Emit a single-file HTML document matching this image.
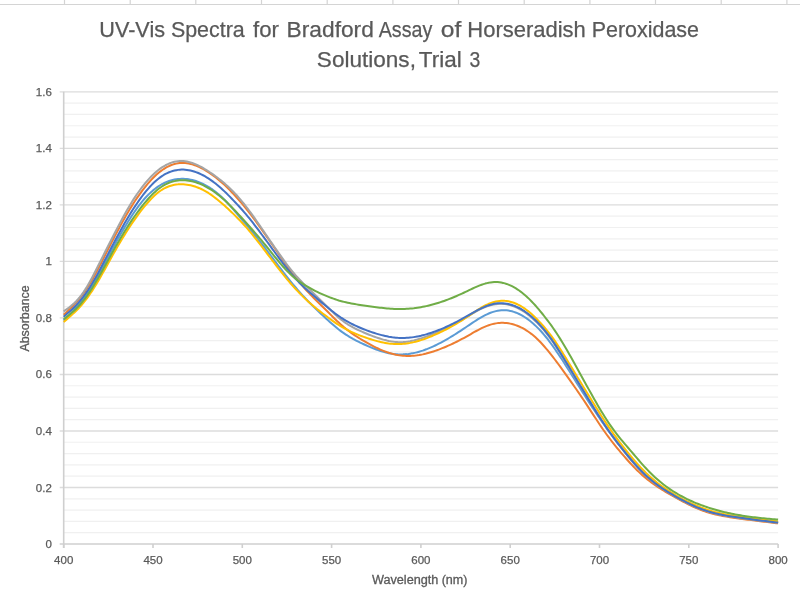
<!DOCTYPE html><html><head><meta charset="utf-8"><style>html,body{margin:0;padding:0;background:#fff;}svg{display:block;filter:blur(0.3px);} svg text{-webkit-font-smoothing:antialiased;}text{font-family:"Liberation Sans",sans-serif;}</style></head><body>
<svg width="800" height="596" viewBox="0 0 800 596">
<rect width="800" height="596" fill="#fff"/>
<g stroke="#d4d4d4" stroke-width="1.2">
<line x1="0" y1="4.5" x2="800" y2="4.5"/>
<line x1="64.5" y1="0" x2="64.5" y2="4.5"/>
<line x1="130.2" y1="0" x2="130.2" y2="4.5"/>
<line x1="195.8" y1="0" x2="195.8" y2="4.5"/>
<line x1="261.5" y1="0" x2="261.5" y2="4.5"/>
<line x1="327.2" y1="0" x2="327.2" y2="4.5"/>
<line x1="392.9" y1="0" x2="392.9" y2="4.5"/>
<line x1="458.5" y1="0" x2="458.5" y2="4.5"/>
<line x1="524.2" y1="0" x2="524.2" y2="4.5"/>
<line x1="589.9" y1="0" x2="589.9" y2="4.5"/>
<line x1="655.5" y1="0" x2="655.5" y2="4.5"/>
<line x1="721.2" y1="0" x2="721.2" y2="4.5"/>
<line x1="786.9" y1="0" x2="786.9" y2="4.5"/>
</g>
<g stroke="#f0f0f0" stroke-width="1.2">
<line x1="63.7" y1="532.70" x2="778.1" y2="532.70"/>
<line x1="63.7" y1="521.39" x2="778.1" y2="521.39"/>
<line x1="63.7" y1="510.09" x2="778.1" y2="510.09"/>
<line x1="63.7" y1="498.78" x2="778.1" y2="498.78"/>
<line x1="63.7" y1="476.18" x2="778.1" y2="476.18"/>
<line x1="63.7" y1="464.87" x2="778.1" y2="464.87"/>
<line x1="63.7" y1="453.57" x2="778.1" y2="453.57"/>
<line x1="63.7" y1="442.26" x2="778.1" y2="442.26"/>
<line x1="63.7" y1="419.66" x2="778.1" y2="419.66"/>
<line x1="63.7" y1="408.35" x2="778.1" y2="408.35"/>
<line x1="63.7" y1="397.05" x2="778.1" y2="397.05"/>
<line x1="63.7" y1="385.74" x2="778.1" y2="385.74"/>
<line x1="63.7" y1="363.14" x2="778.1" y2="363.14"/>
<line x1="63.7" y1="351.83" x2="778.1" y2="351.83"/>
<line x1="63.7" y1="340.53" x2="778.1" y2="340.53"/>
<line x1="63.7" y1="329.22" x2="778.1" y2="329.22"/>
<line x1="63.7" y1="306.62" x2="778.1" y2="306.62"/>
<line x1="63.7" y1="295.31" x2="778.1" y2="295.31"/>
<line x1="63.7" y1="284.01" x2="778.1" y2="284.01"/>
<line x1="63.7" y1="272.70" x2="778.1" y2="272.70"/>
<line x1="63.7" y1="250.10" x2="778.1" y2="250.10"/>
<line x1="63.7" y1="238.79" x2="778.1" y2="238.79"/>
<line x1="63.7" y1="227.49" x2="778.1" y2="227.49"/>
<line x1="63.7" y1="216.18" x2="778.1" y2="216.18"/>
<line x1="63.7" y1="193.58" x2="778.1" y2="193.58"/>
<line x1="63.7" y1="182.27" x2="778.1" y2="182.27"/>
<line x1="63.7" y1="170.97" x2="778.1" y2="170.97"/>
<line x1="63.7" y1="159.66" x2="778.1" y2="159.66"/>
<line x1="63.7" y1="137.06" x2="778.1" y2="137.06"/>
<line x1="63.7" y1="125.75" x2="778.1" y2="125.75"/>
<line x1="63.7" y1="114.45" x2="778.1" y2="114.45"/>
<line x1="63.7" y1="103.14" x2="778.1" y2="103.14"/>
</g>
<g stroke="#dcdcdc" stroke-width="1.4">
<line x1="59.7" y1="487.48" x2="778.1" y2="487.48"/>
<line x1="59.7" y1="430.96" x2="778.1" y2="430.96"/>
<line x1="59.7" y1="374.44" x2="778.1" y2="374.44"/>
<line x1="59.7" y1="317.92" x2="778.1" y2="317.92"/>
<line x1="59.7" y1="261.40" x2="778.1" y2="261.40"/>
<line x1="59.7" y1="204.88" x2="778.1" y2="204.88"/>
<line x1="59.7" y1="148.36" x2="778.1" y2="148.36"/>
<line x1="59.7" y1="91.84" x2="778.1" y2="91.84"/>
</g>
<g stroke="#cfcfcf" stroke-width="1.6">
<line x1="63.7" y1="91.8" x2="63.7" y2="548.0"/>
<line x1="59.7" y1="544.0" x2="778.1" y2="544.0"/>
<line x1="63.7" y1="544.0" x2="63.7" y2="548.0"/>
<line x1="153.0" y1="544.0" x2="153.0" y2="548.0"/>
<line x1="242.3" y1="544.0" x2="242.3" y2="548.0"/>
<line x1="331.6" y1="544.0" x2="331.6" y2="548.0"/>
<line x1="420.9" y1="544.0" x2="420.9" y2="548.0"/>
<line x1="510.2" y1="544.0" x2="510.2" y2="548.0"/>
<line x1="599.5" y1="544.0" x2="599.5" y2="548.0"/>
<line x1="688.8" y1="544.0" x2="688.8" y2="548.0"/>
<line x1="778.1" y1="544.0" x2="778.1" y2="548.0"/>
</g>
<path d="M63.70,320.52L65.49,318.75L67.27,316.96L69.06,315.16L70.84,313.33L72.63,311.46L74.42,309.53L76.20,307.54L77.99,305.47L79.77,303.32L81.56,301.08L83.35,298.75L85.13,296.33L86.92,293.80L88.70,291.16L90.49,288.42L92.28,285.58L94.06,282.63L95.85,279.57L97.63,276.44L99.42,273.23L101.21,269.96L102.99,266.66L104.78,263.32L106.56,259.96L108.35,256.59L110.14,253.23L111.92,249.89L113.71,246.58L115.49,243.31L117.28,240.08L119.07,236.89L120.85,233.74L122.64,230.66L124.42,227.62L126.21,224.65L128.00,221.75L129.78,218.92L131.57,216.15L133.35,213.47L135.14,210.87L136.93,208.36L138.71,205.94L140.50,203.61L142.28,201.39L144.07,199.27L145.86,197.27L147.64,195.38L149.43,193.61L151.21,191.95L153.00,190.40L154.79,188.96L156.57,187.62L158.36,186.38L160.14,185.25L161.93,184.21L163.72,183.27L165.50,182.42L167.29,181.67L169.07,181.01L170.86,180.44L172.65,179.96L174.43,179.56L176.22,179.25L178.00,179.03L179.79,178.88L181.58,178.81L183.36,178.82L185.15,178.91L186.93,179.07L188.72,179.31L190.51,179.62L192.29,180.01L194.08,180.47L195.86,181.01L197.65,181.62L199.44,182.31L201.22,183.07L203.01,183.91L204.79,184.81L206.58,185.79L208.37,186.85L210.15,187.97L211.94,189.17L213.72,190.44L215.51,191.79L217.30,193.21L219.08,194.70L220.87,196.28L222.65,197.93L224.44,199.66L226.23,201.48L228.01,203.37L229.80,205.33L231.58,207.35L233.37,209.41L235.16,211.51L236.94,213.62L238.73,215.75L240.51,217.87L242.30,219.98L244.09,222.10L245.87,224.21L247.66,226.34L249.44,228.48L251.23,230.64L253.02,232.83L254.80,235.03L256.59,237.26L258.37,239.50L260.16,241.77L261.95,244.05L263.73,246.36L265.52,248.68L267.30,251.02L269.09,253.38L270.88,255.75L272.66,258.13L274.45,260.51L276.23,262.89L278.02,265.26L279.81,267.63L281.59,269.97L283.38,272.29L285.16,274.59L286.95,276.86L288.74,279.11L290.52,281.32L292.31,283.51L294.09,285.66L295.88,287.77L297.67,289.85L299.45,291.90L301.24,293.90L303.02,295.85L304.81,297.77L306.60,299.65L308.38,301.50L310.17,303.32L311.95,305.11L313.74,306.87L315.53,308.61L317.31,310.32L319.10,312.02L320.88,313.70L322.67,315.37L324.46,317.02L326.24,318.67L328.03,320.30L329.81,321.91L331.60,323.50L333.39,325.06L335.17,326.58L336.96,328.05L338.74,329.47L340.53,330.83L342.32,332.14L344.10,333.38L345.89,334.57L347.67,335.71L349.46,336.80L351.25,337.85L353.03,338.86L354.82,339.82L356.60,340.76L358.39,341.66L360.18,342.54L361.96,343.39L363.75,344.22L365.53,345.03L367.32,345.83L369.11,346.61L370.89,347.37L372.68,348.10L374.46,348.80L376.25,349.48L378.04,350.12L379.82,350.73L381.61,351.30L383.39,351.83L385.18,352.32L386.97,352.76L388.75,353.15L390.54,353.49L392.32,353.78L394.11,354.01L395.90,354.19L397.68,354.31L399.47,354.38L401.25,354.39L403.04,354.36L404.83,354.26L406.61,354.12L408.40,353.92L410.18,353.66L411.97,353.36L413.76,353.01L415.54,352.62L417.33,352.17L419.11,351.68L420.90,351.15L422.69,350.58L424.47,349.96L426.26,349.31L428.04,348.61L429.83,347.88L431.62,347.11L433.40,346.31L435.19,345.48L436.97,344.61L438.76,343.72L440.55,342.79L442.33,341.83L444.12,340.85L445.90,339.85L447.69,338.82L449.48,337.76L451.26,336.69L453.05,335.59L454.83,334.48L456.62,333.35L458.41,332.20L460.19,331.04L461.98,329.86L463.76,328.67L465.55,327.47L467.34,326.27L469.12,325.06L470.91,323.85L472.69,322.66L474.48,321.49L476.27,320.34L478.05,319.22L479.84,318.14L481.62,317.10L483.41,316.11L485.20,315.18L486.98,314.32L488.77,313.52L490.55,312.80L492.34,312.16L494.13,311.61L495.91,311.14L497.70,310.77L499.48,310.49L501.27,310.30L503.06,310.22L504.84,310.23L506.63,310.36L508.41,310.58L510.20,310.90L511.99,311.32L513.77,311.84L515.56,312.46L517.34,313.18L519.13,313.99L520.92,314.89L522.70,315.89L524.49,316.98L526.27,318.16L528.06,319.43L529.85,320.79L531.63,322.23L533.42,323.77L535.20,325.39L536.99,327.10L538.78,328.89L540.56,330.78L542.35,332.76L544.13,334.83L545.92,336.99L547.71,339.24L549.49,341.58L551.28,343.98L553.06,346.45L554.85,348.98L556.64,351.56L558.42,354.19L560.21,356.86L561.99,359.57L563.78,362.32L565.57,365.09L567.35,367.90L569.14,370.72L570.92,373.56L572.71,376.41L574.50,379.26L576.28,382.12L578.07,384.98L579.85,387.84L581.64,390.68L583.43,393.51L585.21,396.32L587.00,399.11L588.78,401.88L590.57,404.63L592.36,407.36L594.14,410.06L595.93,412.73L597.71,415.38L599.50,418.00L601.29,420.59L603.07,423.15L604.86,425.68L606.64,428.18L608.43,430.64L610.22,433.07L612.00,435.47L613.79,437.84L615.57,440.19L617.36,442.51L619.15,444.81L620.93,447.09L622.72,449.36L624.50,451.61L626.29,453.84L628.08,456.06L629.86,458.25L631.65,460.40L633.43,462.52L635.22,464.60L637.01,466.63L638.79,468.61L640.58,470.54L642.36,472.40L644.15,474.20L645.94,475.93L647.72,477.58L649.51,479.17L651.29,480.70L653.08,482.16L654.87,483.57L656.65,484.93L658.44,486.23L660.22,487.49L662.01,488.71L663.80,489.89L665.58,491.04L667.37,492.15L669.15,493.24L670.94,494.30L672.73,495.34L674.51,496.36L676.30,497.37L678.08,498.37L679.87,499.36L681.66,500.33L683.44,501.29L685.23,502.23L687.01,503.15L688.80,504.05L690.59,504.92L692.37,505.77L694.16,506.59L695.94,507.37L697.73,508.13L699.52,508.85L701.30,509.53L703.09,510.18L704.87,510.80L706.66,511.38L708.45,511.92L710.23,512.44L712.02,512.93L713.80,513.39L715.59,513.83L717.38,514.24L719.16,514.64L720.95,515.01L722.73,515.36L724.52,515.69L726.31,516.01L728.09,516.31L729.88,516.60L731.66,516.88L733.45,517.14L735.24,517.40L737.02,517.65L738.81,517.90L740.59,518.14L742.38,518.38L744.17,518.62L745.95,518.86L747.74,519.09L749.52,519.32L751.31,519.55L753.10,519.77L754.88,520.00L756.67,520.22L758.45,520.44L760.24,520.66L762.03,520.88L763.81,521.10L765.60,521.32L767.38,521.53L769.17,521.75L770.96,521.96L772.74,522.17L774.53,522.39L776.31,522.60L778.10,522.81" fill="none" stroke="#5B9BD5" stroke-width="2.0" stroke-linejoin="round" stroke-linecap="butt"/>
<path d="M63.70,314.85L65.49,313.20L67.27,311.54L69.06,309.85L70.84,308.11L72.63,306.31L74.42,304.43L76.20,302.46L77.99,300.39L79.77,298.23L81.56,295.95L83.35,293.56L85.13,291.05L86.92,288.41L88.70,285.63L90.49,282.72L92.28,279.67L94.06,276.49L95.85,273.21L97.63,269.84L99.42,266.41L101.21,262.93L102.99,259.41L104.78,255.87L106.56,252.33L108.35,248.79L110.14,245.28L111.92,241.79L113.71,238.33L115.49,234.90L117.28,231.51L119.07,228.17L120.85,224.87L122.64,221.63L124.42,218.44L126.21,215.32L128.00,212.26L129.78,209.28L131.57,206.38L133.35,203.56L135.14,200.82L136.93,198.17L138.71,195.59L140.50,193.09L142.28,190.67L144.07,188.34L145.86,186.09L147.64,183.93L149.43,181.86L151.21,179.89L153.00,178.02L154.79,176.25L156.57,174.58L158.36,173.03L160.14,171.58L161.93,170.25L163.72,169.03L165.50,167.92L167.29,166.93L169.07,166.04L170.86,165.27L172.65,164.61L174.43,164.06L176.22,163.62L178.00,163.29L179.79,163.06L181.58,162.94L183.36,162.93L185.15,163.03L186.93,163.22L188.72,163.52L190.51,163.91L192.29,164.39L194.08,164.95L195.86,165.60L197.65,166.33L199.44,167.14L201.22,168.02L203.01,168.97L204.79,169.98L206.58,171.06L208.37,172.19L210.15,173.38L211.94,174.62L213.72,175.91L215.51,177.26L217.30,178.67L219.08,180.13L220.87,181.64L222.65,183.22L224.44,184.86L226.23,186.56L228.01,188.31L229.80,190.11L231.58,191.96L233.37,193.86L235.16,195.80L236.94,197.78L238.73,199.80L240.51,201.86L242.30,203.97L244.09,206.12L245.87,208.32L247.66,210.57L249.44,212.86L251.23,215.20L253.02,217.57L254.80,219.98L256.59,222.41L258.37,224.87L260.16,227.36L261.95,229.86L263.73,232.38L265.52,234.92L267.30,237.47L269.09,240.04L270.88,242.61L272.66,245.20L274.45,247.79L276.23,250.40L278.02,253.01L279.81,255.62L281.59,258.22L283.38,260.80L285.16,263.36L286.95,265.89L288.74,268.39L290.52,270.84L292.31,273.23L294.09,275.57L295.88,277.86L297.67,280.09L299.45,282.27L301.24,284.40L303.02,286.47L304.81,288.50L306.60,290.47L308.38,292.40L310.17,294.28L311.95,296.12L313.74,297.92L315.53,299.70L317.31,301.45L319.10,303.19L320.88,304.93L322.67,306.68L324.46,308.44L326.24,310.22L328.03,312.02L329.81,313.83L331.60,315.63L333.39,317.42L335.17,319.18L336.96,320.91L338.74,322.60L340.53,324.23L342.32,325.80L344.10,327.31L345.89,328.76L347.67,330.16L349.46,331.52L351.25,332.82L353.03,334.08L354.82,335.30L356.60,336.49L358.39,337.64L360.18,338.75L361.96,339.84L363.75,340.90L365.53,341.94L367.32,342.96L369.11,343.96L370.89,344.93L372.68,345.87L374.46,346.78L376.25,347.67L378.04,348.51L379.82,349.32L381.61,350.10L383.39,350.83L385.18,351.52L386.97,352.16L388.75,352.76L390.54,353.31L392.32,353.81L394.11,354.26L395.90,354.66L397.68,355.00L399.47,355.30L401.25,355.54L403.04,355.73L404.83,355.86L406.61,355.94L408.40,355.97L410.18,355.95L411.97,355.87L413.76,355.74L415.54,355.57L417.33,355.34L419.11,355.07L420.90,354.75L422.69,354.39L424.47,353.99L426.26,353.56L428.04,353.08L429.83,352.57L431.62,352.03L433.40,351.46L435.19,350.85L436.97,350.22L438.76,349.57L440.55,348.89L442.33,348.18L444.12,347.46L445.90,346.71L447.69,345.94L449.48,345.15L451.26,344.33L453.05,343.50L454.83,342.64L456.62,341.76L458.41,340.86L460.19,339.94L461.98,338.99L463.76,338.03L465.55,337.04L467.34,336.04L469.12,335.02L470.91,334.01L472.69,332.99L474.48,331.98L476.27,331.00L478.05,330.04L479.84,329.11L481.62,328.22L483.41,327.37L485.20,326.59L486.98,325.86L488.77,325.20L490.55,324.62L492.34,324.13L494.13,323.71L495.91,323.37L497.70,323.12L499.48,322.95L501.27,322.85L503.06,322.85L504.84,322.92L506.63,323.07L508.41,323.31L510.20,323.63L511.99,324.03L513.77,324.51L515.56,325.09L517.34,325.74L519.13,326.48L520.92,327.31L522.70,328.22L524.49,329.22L526.27,330.30L528.06,331.48L529.85,332.74L531.63,334.09L533.42,335.54L535.20,337.08L536.99,338.73L538.78,340.47L540.56,342.31L542.35,344.23L544.13,346.23L545.92,348.30L547.71,350.44L549.49,352.63L551.28,354.88L553.06,357.17L554.85,359.50L556.64,361.87L558.42,364.27L560.21,366.70L561.99,369.16L563.78,371.63L565.57,374.12L567.35,376.61L569.14,379.12L570.92,381.64L572.71,384.17L574.50,386.72L576.28,389.28L578.07,391.87L579.85,394.47L581.64,397.10L583.43,399.75L585.21,402.42L587.00,405.13L588.78,407.86L590.57,410.60L592.36,413.35L594.14,416.09L595.93,418.82L597.71,421.53L599.50,424.21L601.29,426.85L603.07,429.45L604.86,431.99L606.64,434.47L608.43,436.90L610.22,439.27L612.00,441.59L613.79,443.85L615.57,446.07L617.36,448.26L619.15,450.41L620.93,452.54L622.72,454.65L624.50,456.72L626.29,458.77L628.08,460.77L629.86,462.74L631.65,464.67L633.43,466.55L635.22,468.39L637.01,470.17L638.79,471.90L640.58,473.57L642.36,475.18L644.15,476.73L645.94,478.22L647.72,479.66L649.51,481.05L651.29,482.40L653.08,483.70L654.87,484.96L656.65,486.18L658.44,487.37L660.22,488.53L662.01,489.65L663.80,490.75L665.58,491.82L667.37,492.88L669.15,493.91L670.94,494.93L672.73,495.93L674.51,496.93L676.30,497.92L678.08,498.90L679.87,499.87L681.66,500.84L683.44,501.79L685.23,502.73L687.01,503.65L688.80,504.55L690.59,505.42L692.37,506.28L694.16,507.10L695.94,507.90L697.73,508.66L699.52,509.39L701.30,510.08L703.09,510.73L704.87,511.35L706.66,511.94L708.45,512.49L710.23,513.01L712.02,513.50L713.80,513.97L715.59,514.41L717.38,514.82L719.16,515.21L720.95,515.58L722.73,515.93L724.52,516.27L726.31,516.58L728.09,516.88L729.88,517.17L731.66,517.45L733.45,517.72L735.24,517.97L737.02,518.22L738.81,518.47L740.59,518.71L742.38,518.95L744.17,519.19L745.95,519.42L747.74,519.65L749.52,519.88L751.31,520.11L753.10,520.34L754.88,520.56L756.67,520.78L758.45,521.01L760.24,521.23L762.03,521.44L763.81,521.66L765.60,521.88L767.38,522.09L769.17,522.31L770.96,522.52L772.74,522.74L774.53,522.95L776.31,523.16L778.10,523.38" fill="none" stroke="#ED7D31" stroke-width="2.0" stroke-linejoin="round" stroke-linecap="butt"/>
<path d="M63.70,311.43L65.49,310.14L67.27,308.83L69.06,307.48L70.84,306.07L72.63,304.56L74.42,302.94L76.20,301.17L77.99,299.24L79.77,297.12L81.56,294.81L83.35,292.31L85.13,289.62L86.92,286.75L88.70,283.71L90.49,280.52L92.28,277.22L94.06,273.81L95.85,270.33L97.63,266.80L99.42,263.24L101.21,259.67L102.99,256.09L104.78,252.53L106.56,248.98L108.35,245.46L110.14,241.96L111.92,238.48L113.71,235.01L115.49,231.57L117.28,228.14L119.07,224.74L120.85,221.37L122.64,218.05L124.42,214.78L126.21,211.57L128.00,208.45L129.78,205.42L131.57,202.49L133.35,199.65L135.14,196.92L136.93,194.27L138.71,191.71L140.50,189.25L142.28,186.88L144.07,184.61L145.86,182.43L147.64,180.35L149.43,178.37L151.21,176.49L153.00,174.71L154.79,173.03L156.57,171.47L158.36,170.01L160.14,168.65L161.93,167.41L163.72,166.28L165.50,165.26L167.29,164.34L169.07,163.54L170.86,162.85L172.65,162.26L174.43,161.79L176.22,161.43L178.00,161.18L179.79,161.03L181.58,161.00L183.36,161.07L185.15,161.26L186.93,161.55L188.72,161.93L190.51,162.41L192.29,162.98L194.08,163.63L195.86,164.37L197.65,165.17L199.44,166.04L201.22,166.98L203.01,167.98L204.79,169.03L206.58,170.13L208.37,171.27L210.15,172.46L211.94,173.68L213.72,174.94L215.51,176.23L217.30,177.56L219.08,178.94L220.87,180.36L222.65,181.82L224.44,183.33L226.23,184.89L228.01,186.51L229.80,188.18L231.58,189.91L233.37,191.71L235.16,193.58L236.94,195.52L238.73,197.54L240.51,199.62L242.30,201.77L244.09,203.98L245.87,206.26L247.66,208.60L249.44,210.99L251.23,213.43L253.02,215.92L254.80,218.44L256.59,220.99L258.37,223.57L260.16,226.17L261.95,228.79L263.73,231.41L265.52,234.03L267.30,236.65L269.09,239.26L270.88,241.85L272.66,244.43L274.45,246.99L276.23,249.55L278.02,252.11L279.81,254.65L281.59,257.18L283.38,259.68L285.16,262.14L286.95,264.56L288.74,266.91L290.52,269.19L292.31,271.40L294.09,273.51L295.88,275.54L297.67,277.51L299.45,279.41L301.24,281.26L303.02,283.08L304.81,284.86L306.60,286.62L308.38,288.36L310.17,290.09L311.95,291.81L313.74,293.54L315.53,295.26L317.31,296.99L319.10,298.73L320.88,300.47L322.67,302.22L324.46,303.98L326.24,305.76L328.03,307.54L329.81,309.32L331.60,311.08L333.39,312.81L335.17,314.49L336.96,316.12L338.74,317.68L340.53,319.16L342.32,320.56L344.10,321.87L345.89,323.11L347.67,324.28L349.46,325.38L351.25,326.42L353.03,327.41L354.82,328.34L356.60,329.24L358.39,330.09L360.18,330.91L361.96,331.71L363.75,332.48L365.53,333.23L367.32,333.97L369.11,334.70L370.89,335.40L372.68,336.09L374.46,336.75L376.25,337.39L378.04,337.99L379.82,338.57L381.61,339.11L383.39,339.62L385.18,340.09L386.97,340.52L388.75,340.90L390.54,341.24L392.32,341.53L394.11,341.77L395.90,341.95L397.68,342.08L399.47,342.14L401.25,342.14L403.04,342.07L404.83,341.93L406.61,341.74L408.40,341.48L410.18,341.17L411.97,340.81L413.76,340.41L415.54,339.96L417.33,339.48L419.11,338.96L420.90,338.41L422.69,337.83L424.47,337.23L426.26,336.60L428.04,335.94L429.83,335.26L431.62,334.56L433.40,333.83L435.19,333.09L436.97,332.32L438.76,331.54L440.55,330.74L442.33,329.93L444.12,329.09L445.90,328.24L447.69,327.37L449.48,326.49L451.26,325.59L453.05,324.67L454.83,323.73L456.62,322.77L458.41,321.80L460.19,320.80L461.98,319.79L463.76,318.76L465.55,317.71L467.34,316.64L469.12,315.57L470.91,314.50L472.69,313.43L474.48,312.39L476.27,311.38L478.05,310.40L479.84,309.47L481.62,308.59L483.41,307.78L485.20,307.03L486.98,306.35L488.77,305.74L490.55,305.21L492.34,304.77L494.13,304.41L495.91,304.13L497.70,303.95L499.48,303.85L501.27,303.84L503.06,303.92L504.84,304.09L506.63,304.35L508.41,304.71L510.20,305.15L511.99,305.69L513.77,306.32L515.56,307.04L517.34,307.85L519.13,308.76L520.92,309.75L522.70,310.83L524.49,312.01L526.27,313.27L528.06,314.63L529.85,316.08L531.63,317.61L533.42,319.22L535.20,320.90L536.99,322.66L538.78,324.48L540.56,326.38L542.35,328.37L544.13,330.44L545.92,332.61L547.71,334.88L549.49,337.25L551.28,339.72L553.06,342.28L554.85,344.94L556.64,347.68L558.42,350.48L560.21,353.33L561.99,356.22L563.78,359.13L565.57,362.07L567.35,365.01L569.14,367.97L570.92,370.91L572.71,373.85L574.50,376.77L576.28,379.67L578.07,382.56L579.85,385.43L581.64,388.31L583.43,391.18L585.21,394.05L587.00,396.93L588.78,399.81L590.57,402.69L592.36,405.57L594.14,408.43L595.93,411.29L597.71,414.12L599.50,416.93L601.29,419.71L603.07,422.46L604.86,425.17L606.64,427.84L608.43,430.46L610.22,433.02L612.00,435.54L613.79,438.00L615.57,440.41L617.36,442.78L619.15,445.11L620.93,447.41L622.72,449.67L624.50,451.91L626.29,454.12L628.08,456.31L629.86,458.46L631.65,460.57L633.43,462.64L635.22,464.67L637.01,466.65L638.79,468.58L640.58,470.46L642.36,472.27L644.15,474.02L645.94,475.71L647.72,477.34L649.51,478.90L651.29,480.40L653.08,481.85L654.87,483.24L656.65,484.59L658.44,485.89L660.22,487.14L662.01,488.36L663.80,489.54L665.58,490.69L667.37,491.81L669.15,492.90L670.94,493.97L672.73,495.01L674.51,496.04L676.30,497.06L678.08,498.06L679.87,499.06L681.66,500.03L683.44,500.99L685.23,501.94L687.01,502.86L688.80,503.76L690.59,504.63L692.37,505.48L694.16,506.30L695.94,507.09L697.73,507.85L699.52,508.58L701.30,509.27L703.09,509.93L704.87,510.55L706.66,511.14L708.45,511.70L710.23,512.23L712.02,512.73L713.80,513.20L715.59,513.65L717.38,514.08L719.16,514.49L720.95,514.87L722.73,515.23L724.52,515.58L726.31,515.91L728.09,516.23L729.88,516.53L731.66,516.82L733.45,517.10L735.24,517.37L737.02,517.63L738.81,517.89L740.59,518.14L742.38,518.39L744.17,518.63L745.95,518.87L747.74,519.11L749.52,519.34L751.31,519.57L753.10,519.80L754.88,520.03L756.67,520.25L758.45,520.47L760.24,520.69L762.03,520.91L763.81,521.12L765.60,521.34L767.38,521.55L769.17,521.76L770.96,521.97L772.74,522.19L774.53,522.40L776.31,522.60L778.10,522.81" fill="none" stroke="#A5A5A5" stroke-width="2.0" stroke-linejoin="round" stroke-linecap="butt"/>
<path d="M63.70,322.01L65.49,320.45L67.27,318.89L69.06,317.32L70.84,315.74L72.63,314.13L74.42,312.47L76.20,310.74L77.99,308.94L79.77,307.05L81.56,305.05L83.35,302.93L85.13,300.70L86.92,298.35L88.70,295.88L90.49,293.30L92.28,290.60L94.06,287.80L95.85,284.90L97.63,281.92L99.42,278.87L101.21,275.76L102.99,272.60L104.78,269.41L106.56,266.20L108.35,262.98L110.14,259.77L111.92,256.56L113.71,253.38L115.49,250.22L117.28,247.11L119.07,244.05L120.85,241.03L122.64,238.06L124.42,235.14L126.21,232.28L128.00,229.47L129.78,226.71L131.57,224.02L133.35,221.38L135.14,218.81L136.93,216.30L138.71,213.86L140.50,211.49L142.28,209.19L144.07,206.96L145.86,204.81L147.64,202.73L149.43,200.74L151.21,198.84L153.00,197.03L154.79,195.34L156.57,193.76L158.36,192.30L160.14,190.97L161.93,189.78L163.72,188.72L165.50,187.78L167.29,186.97L169.07,186.27L170.86,185.68L172.65,185.21L174.43,184.83L176.22,184.55L178.00,184.37L179.79,184.27L181.58,184.25L183.36,184.31L185.15,184.45L186.93,184.66L188.72,184.94L190.51,185.30L192.29,185.73L194.08,186.24L195.86,186.82L197.65,187.47L199.44,188.20L201.22,189.01L203.01,189.89L204.79,190.84L206.58,191.87L208.37,192.97L210.15,194.15L211.94,195.40L213.72,196.72L215.51,198.09L217.30,199.51L219.08,200.97L220.87,202.47L222.65,204.00L224.44,205.56L226.23,207.16L228.01,208.80L229.80,210.47L231.58,212.17L233.37,213.90L235.16,215.66L236.94,217.46L238.73,219.28L240.51,221.14L242.30,223.02L244.09,224.95L245.87,226.92L247.66,228.94L249.44,231.03L251.23,233.16L253.02,235.34L254.80,237.56L256.59,239.81L258.37,242.10L260.16,244.41L261.95,246.74L263.73,249.08L265.52,251.44L267.30,253.80L269.09,256.16L270.88,258.52L272.66,260.87L274.45,263.22L276.23,265.54L278.02,267.86L279.81,270.15L281.59,272.41L283.38,274.65L285.16,276.85L286.95,279.02L288.74,281.15L290.52,283.25L292.31,285.30L294.09,287.31L295.88,289.28L297.67,291.19L299.45,293.06L301.24,294.88L303.02,296.64L304.81,298.36L306.60,300.02L308.38,301.65L310.17,303.23L311.95,304.77L313.74,306.28L315.53,307.76L317.31,309.21L319.10,310.64L320.88,312.04L322.67,313.42L324.46,314.79L326.24,316.15L328.03,317.49L329.81,318.82L331.60,320.12L333.39,321.39L335.17,322.62L336.96,323.83L338.74,324.98L340.53,326.10L342.32,327.16L344.10,328.17L345.89,329.14L347.67,330.07L349.46,330.96L351.25,331.81L353.03,332.63L354.82,333.41L356.60,334.16L358.39,334.88L360.18,335.58L361.96,336.25L363.75,336.90L365.53,337.54L367.32,338.15L369.11,338.75L370.89,339.32L372.68,339.87L374.46,340.39L376.25,340.89L378.04,341.36L379.82,341.80L381.61,342.20L383.39,342.57L385.18,342.90L386.97,343.19L388.75,343.44L390.54,343.65L392.32,343.82L394.11,343.94L395.90,344.01L397.68,344.04L399.47,344.02L401.25,343.95L403.04,343.82L404.83,343.65L406.61,343.44L408.40,343.17L410.18,342.87L411.97,342.51L413.76,342.12L415.54,341.69L417.33,341.21L419.11,340.70L420.90,340.16L422.69,339.58L424.47,338.96L426.26,338.32L428.04,337.64L429.83,336.93L431.62,336.20L433.40,335.44L435.19,334.66L436.97,333.85L438.76,333.02L440.55,332.17L442.33,331.29L444.12,330.40L445.90,329.49L447.69,328.56L449.48,327.60L451.26,326.62L453.05,325.63L454.83,324.60L456.62,323.56L458.41,322.49L460.19,321.40L461.98,320.28L463.76,319.14L465.55,317.97L467.34,316.78L469.12,315.58L470.91,314.37L472.69,313.16L474.48,311.96L476.27,310.78L478.05,309.63L479.84,308.52L481.62,307.45L483.41,306.44L485.20,305.49L486.98,304.60L488.77,303.80L490.55,303.09L492.34,302.46L494.13,301.94L495.91,301.51L497.70,301.18L499.48,300.95L501.27,300.82L503.06,300.79L504.84,300.87L506.63,301.05L508.41,301.33L510.20,301.72L511.99,302.21L513.77,302.79L515.56,303.49L517.34,304.28L519.13,305.17L520.92,306.16L522.70,307.24L524.49,308.43L526.27,309.71L528.06,311.09L529.85,312.56L531.63,314.12L533.42,315.76L535.20,317.48L536.99,319.25L538.78,321.08L540.56,322.98L542.35,324.94L544.13,326.98L545.92,329.09L547.71,331.28L549.49,333.55L551.28,335.92L553.06,338.38L554.85,340.93L556.64,343.57L558.42,346.28L560.21,349.04L561.99,351.86L563.78,354.71L565.57,357.60L567.35,360.51L569.14,363.44L570.92,366.38L572.71,369.33L574.50,372.28L576.28,375.23L578.07,378.16L579.85,381.09L581.64,384.01L583.43,386.92L585.21,389.83L587.00,392.74L588.78,395.64L590.57,398.55L592.36,401.44L594.14,404.33L595.93,407.21L597.71,410.06L599.50,412.90L601.29,415.70L603.07,418.48L604.86,421.22L606.64,423.92L608.43,426.57L610.22,429.18L612.00,431.74L613.79,434.24L615.57,436.70L617.36,439.12L619.15,441.49L620.93,443.83L622.72,446.13L624.50,448.40L626.29,450.64L628.08,452.86L629.86,455.04L631.65,457.19L633.43,459.30L635.22,461.38L637.01,463.41L638.79,465.40L640.58,467.34L642.36,469.23L644.15,471.06L645.94,472.84L647.72,474.56L649.51,476.22L651.29,477.82L653.08,479.36L654.87,480.85L656.65,482.30L658.44,483.69L660.22,485.04L662.01,486.35L663.80,487.62L665.58,488.84L667.37,490.04L669.15,491.20L670.94,492.32L672.73,493.42L674.51,494.50L676.30,495.55L678.08,496.57L679.87,497.58L681.66,498.56L683.44,499.52L685.23,500.45L687.01,501.36L688.80,502.24L690.59,503.10L692.37,503.93L694.16,504.73L695.94,505.51L697.73,506.25L699.52,506.97L701.30,507.65L703.09,508.31L704.87,508.93L706.66,509.53L708.45,510.10L710.23,510.65L712.02,511.17L713.80,511.67L715.59,512.14L717.38,512.59L719.16,513.03L720.95,513.44L722.73,513.83L724.52,514.21L726.31,514.57L728.09,514.91L729.88,515.25L731.66,515.56L733.45,515.87L735.24,516.16L737.02,516.44L738.81,516.72L740.59,516.98L742.38,517.24L744.17,517.49L745.95,517.74L747.74,517.98L749.52,518.21L751.31,518.44L753.10,518.66L754.88,518.88L756.67,519.09L758.45,519.30L760.24,519.50L762.03,519.70L763.81,519.90L765.60,520.09L767.38,520.29L769.17,520.48L770.96,520.67L772.74,520.85L774.53,521.04L776.31,521.22L778.10,521.41" fill="none" stroke="#FFC000" stroke-width="2.0" stroke-linejoin="round" stroke-linecap="butt"/>
<path d="M63.70,316.66L65.49,315.14L67.27,313.61L69.06,312.05L70.84,310.44L72.63,308.77L74.42,307.02L76.20,305.17L77.99,303.21L79.77,301.15L81.56,298.96L83.35,296.66L85.13,294.24L86.92,291.70L88.70,289.04L90.49,286.25L92.28,283.33L94.06,280.29L95.85,277.14L97.63,273.90L99.42,270.58L101.21,267.21L102.99,263.79L104.78,260.33L106.56,256.87L108.35,253.40L110.14,249.95L111.92,246.52L113.71,243.12L115.49,239.75L117.28,236.42L119.07,233.14L120.85,229.90L122.64,226.71L124.42,223.57L126.21,220.49L128.00,217.47L129.78,214.52L131.57,211.64L133.35,208.83L135.14,206.10L136.93,203.44L138.71,200.88L140.50,198.39L142.28,195.99L144.07,193.68L145.86,191.46L147.64,189.33L149.43,187.30L151.21,185.37L153.00,183.55L154.79,181.83L156.57,180.22L158.36,178.73L160.14,177.36L161.93,176.11L163.72,174.97L165.50,173.95L167.29,173.05L169.07,172.26L170.86,171.58L172.65,171.00L174.43,170.52L176.22,170.15L178.00,169.88L179.79,169.70L181.58,169.62L183.36,169.62L185.15,169.72L186.93,169.90L188.72,170.17L190.51,170.53L192.29,170.97L194.08,171.48L195.86,172.08L197.65,172.76L199.44,173.52L201.22,174.35L203.01,175.25L204.79,176.23L206.58,177.28L208.37,178.40L210.15,179.59L211.94,180.85L213.72,182.17L215.51,183.56L217.30,185.00L219.08,186.51L220.87,188.08L222.65,189.70L224.44,191.37L226.23,193.09L228.01,194.85L229.80,196.65L231.58,198.48L233.37,200.33L235.16,202.20L236.94,204.10L238.73,206.04L240.51,208.00L242.30,210.01L244.09,212.05L245.87,214.15L247.66,216.29L249.44,218.48L251.23,220.71L253.02,222.98L254.80,225.28L256.59,227.61L258.37,229.96L260.16,232.34L261.95,234.73L263.73,237.14L265.52,239.56L267.30,241.99L269.09,244.43L270.88,246.88L272.66,249.32L274.45,251.77L276.23,254.22L278.02,256.65L279.81,259.07L281.59,261.46L283.38,263.82L285.16,266.15L286.95,268.42L288.74,270.65L290.52,272.82L292.31,274.93L294.09,276.98L295.88,278.96L297.67,280.87L299.45,282.72L301.24,284.51L303.02,286.24L304.81,287.91L306.60,289.55L308.38,291.15L310.17,292.73L311.95,294.29L313.74,295.83L315.53,297.36L317.31,298.88L319.10,300.38L320.88,301.88L322.67,303.37L324.46,304.85L326.24,306.33L328.03,307.79L329.81,309.24L331.60,310.67L333.39,312.07L335.17,313.44L336.96,314.77L338.74,316.05L340.53,317.29L342.32,318.46L344.10,319.58L345.89,320.66L347.67,321.68L349.46,322.67L351.25,323.60L353.03,324.50L354.82,325.36L356.60,326.19L358.39,326.99L360.18,327.75L361.96,328.49L363.75,329.21L365.53,329.90L367.32,330.58L369.11,331.23L370.89,331.86L372.68,332.46L374.46,333.04L376.25,333.60L378.04,334.13L379.82,334.63L381.61,335.10L383.39,335.53L385.18,335.94L386.97,336.32L388.75,336.66L390.54,336.96L392.32,337.23L394.11,337.45L395.90,337.64L397.68,337.79L399.47,337.89L401.25,337.95L403.04,337.97L404.83,337.94L406.61,337.86L408.40,337.74L410.18,337.57L411.97,337.37L413.76,337.12L415.54,336.84L417.33,336.51L419.11,336.15L420.90,335.76L422.69,335.32L424.47,334.86L426.26,334.36L428.04,333.83L429.83,333.27L431.62,332.68L433.40,332.06L435.19,331.41L436.97,330.74L438.76,330.04L440.55,329.32L442.33,328.58L444.12,327.81L445.90,327.02L447.69,326.21L449.48,325.38L451.26,324.52L453.05,323.65L454.83,322.75L456.62,321.84L458.41,320.90L460.19,319.95L461.98,318.98L463.76,317.99L465.55,316.99L467.34,315.97L469.12,314.94L470.91,313.91L472.69,312.89L474.48,311.88L476.27,310.90L478.05,309.94L479.84,309.02L481.62,308.14L483.41,307.32L485.20,306.55L486.98,305.85L488.77,305.22L490.55,304.68L492.34,304.22L494.13,303.84L495.91,303.56L497.70,303.36L499.48,303.24L501.27,303.22L503.06,303.29L504.84,303.45L506.63,303.70L508.41,304.04L510.20,304.47L511.99,304.99L513.77,305.60L515.56,306.30L517.34,307.10L519.13,307.98L520.92,308.96L522.70,310.03L524.49,311.20L526.27,312.45L528.06,313.80L529.85,315.24L531.63,316.77L533.42,318.38L535.20,320.07L536.99,321.83L538.78,323.66L540.56,325.57L542.35,327.56L544.13,329.64L545.92,331.82L547.71,334.10L549.49,336.48L551.28,338.95L553.06,341.51L554.85,344.17L556.64,346.89L558.42,349.68L560.21,352.51L561.99,355.37L563.78,358.27L565.57,361.19L567.35,364.13L569.14,367.09L570.92,370.05L572.71,373.02L574.50,376.00L576.28,378.97L578.07,381.94L579.85,384.91L581.64,387.87L583.43,390.84L585.21,393.80L587.00,396.75L588.78,399.70L590.57,402.64L592.36,405.57L594.14,408.47L595.93,411.35L597.71,414.20L599.50,417.02L601.29,419.80L603.07,422.54L604.86,425.23L606.64,427.87L608.43,430.45L610.22,432.98L612.00,435.45L613.79,437.88L615.57,440.26L617.36,442.60L619.15,444.90L620.93,447.17L622.72,449.42L624.50,451.64L626.29,453.84L628.08,456.01L629.86,458.16L631.65,460.27L633.43,462.33L635.22,464.36L637.01,466.34L638.79,468.27L640.58,470.15L642.36,471.97L644.15,473.72L645.94,475.41L647.72,477.04L649.51,478.60L651.29,480.11L653.08,481.56L654.87,482.95L656.65,484.30L658.44,485.60L660.22,486.86L662.01,488.08L663.80,489.26L665.58,490.41L667.37,491.53L669.15,492.62L670.94,493.69L672.73,494.73L674.51,495.76L676.30,496.78L678.08,497.78L679.87,498.77L681.66,499.75L683.44,500.71L685.23,501.65L687.01,502.58L688.80,503.47L690.59,504.35L692.37,505.20L694.16,506.02L695.94,506.81L697.73,507.57L699.52,508.30L701.30,508.99L703.09,509.64L704.87,510.26L706.66,510.85L708.45,511.41L710.23,511.94L712.02,512.44L713.80,512.92L715.59,513.37L717.38,513.79L719.16,514.20L720.95,514.58L722.73,514.95L724.52,515.29L726.31,515.62L728.09,515.94L729.88,516.24L731.66,516.53L733.45,516.81L735.24,517.08L737.02,517.35L738.81,517.60L740.59,517.86L742.38,518.11L744.17,518.35L745.95,518.59L747.74,518.83L749.52,519.07L751.31,519.30L753.10,519.53L754.88,519.76L756.67,519.99L758.45,520.21L760.24,520.43L762.03,520.65L763.81,520.87L765.60,521.09L767.38,521.31L769.17,521.52L770.96,521.74L772.74,521.95L774.53,522.16L776.31,522.37L778.10,522.59" fill="none" stroke="#4472C4" stroke-width="2.0" stroke-linejoin="round" stroke-linecap="butt"/>
<path d="M63.70,319.26L65.49,317.87L67.27,316.46L69.06,315.03L70.84,313.56L72.63,312.02L74.42,310.41L76.20,308.71L77.99,306.91L79.77,304.98L81.56,302.93L83.35,300.74L85.13,298.43L86.92,295.99L88.70,293.43L90.49,290.75L92.28,287.96L94.06,285.07L95.85,282.08L97.63,279.01L99.42,275.87L101.21,272.68L102.99,269.45L104.78,266.20L106.56,262.94L108.35,259.68L110.14,256.42L111.92,253.19L113.71,249.99L115.49,246.83L117.28,243.72L119.07,240.66L120.85,237.64L122.64,234.68L124.42,231.76L126.21,228.91L128.00,226.10L129.78,223.36L131.57,220.68L133.35,218.05L135.14,215.49L136.93,213.00L138.71,210.57L140.50,208.21L142.28,205.92L144.07,203.70L145.86,201.56L147.64,199.49L149.43,197.51L151.21,195.62L153.00,193.82L154.79,192.13L156.57,190.54L158.36,189.07L160.14,187.72L161.93,186.49L163.72,185.39L165.50,184.40L167.29,183.53L169.07,182.77L170.86,182.12L172.65,181.57L174.43,181.12L176.22,180.77L178.00,180.51L179.79,180.34L181.58,180.25L183.36,180.25L185.15,180.32L186.93,180.48L188.72,180.70L190.51,181.01L192.29,181.39L194.08,181.85L195.86,182.37L197.65,182.97L199.44,183.65L201.22,184.39L203.01,185.20L204.79,186.08L206.58,187.03L208.37,188.04L210.15,189.12L211.94,190.27L213.72,191.48L215.51,192.76L217.30,194.10L219.08,195.50L220.87,196.97L222.65,198.51L224.44,200.10L226.23,201.76L228.01,203.47L229.80,205.23L231.58,207.03L233.37,208.87L235.16,210.75L236.94,212.65L238.73,214.57L240.51,216.52L242.30,218.47L244.09,220.45L245.87,222.43L247.66,224.43L249.44,226.45L251.23,228.48L253.02,230.52L254.80,232.58L256.59,234.65L258.37,236.74L260.16,238.85L261.95,240.97L263.73,243.11L265.52,245.26L267.30,247.43L269.09,249.63L270.88,251.84L272.66,254.06L274.45,256.28L276.23,258.50L278.02,260.68L279.81,262.84L281.59,264.94L283.38,266.98L285.16,268.95L286.95,270.84L288.74,272.63L290.52,274.32L292.31,275.92L294.09,277.43L295.88,278.86L297.67,280.22L299.45,281.51L301.24,282.75L303.02,283.93L304.81,285.07L306.60,286.16L308.38,287.20L310.17,288.21L311.95,289.19L313.74,290.14L315.53,291.05L317.31,291.94L319.10,292.79L320.88,293.62L322.67,294.42L324.46,295.19L326.24,295.94L328.03,296.67L329.81,297.37L331.60,298.04L333.39,298.68L335.17,299.29L336.96,299.88L338.74,300.43L340.53,300.94L342.32,301.43L344.10,301.88L345.89,302.30L347.67,302.70L349.46,303.07L351.25,303.43L353.03,303.76L354.82,304.07L356.60,304.37L358.39,304.66L360.18,304.94L361.96,305.21L363.75,305.47L365.53,305.73L367.32,305.99L369.11,306.25L370.89,306.50L372.68,306.75L374.46,306.99L376.25,307.22L378.04,307.44L379.82,307.66L381.61,307.86L383.39,308.05L385.18,308.23L386.97,308.39L388.75,308.54L390.54,308.68L392.32,308.79L394.11,308.89L395.90,308.97L397.68,309.02L399.47,309.04L401.25,309.04L403.04,309.01L404.83,308.95L406.61,308.86L408.40,308.75L410.18,308.60L411.97,308.43L413.76,308.24L415.54,308.01L417.33,307.76L419.11,307.48L420.90,307.18L422.69,306.85L424.47,306.49L426.26,306.11L428.04,305.71L429.83,305.27L431.62,304.82L433.40,304.34L435.19,303.83L436.97,303.30L438.76,302.75L440.55,302.17L442.33,301.56L444.12,300.94L445.90,300.29L447.69,299.62L449.48,298.92L451.26,298.21L453.05,297.48L454.83,296.73L456.62,295.97L458.41,295.19L460.19,294.39L461.98,293.57L463.76,292.75L465.55,291.91L467.34,291.05L469.12,290.20L470.91,289.35L472.69,288.51L474.48,287.69L476.27,286.90L478.05,286.14L479.84,285.42L481.62,284.75L483.41,284.14L485.20,283.59L486.98,283.11L488.77,282.71L490.55,282.39L492.34,282.16L494.13,282.03L495.91,282.01L497.70,282.08L499.48,282.25L501.27,282.52L503.06,282.90L504.84,283.36L506.63,283.93L508.41,284.59L510.20,285.35L511.99,286.20L513.77,287.14L515.56,288.18L517.34,289.30L519.13,290.52L520.92,291.82L522.70,293.21L524.49,294.69L526.27,296.25L528.06,297.89L529.85,299.62L531.63,301.43L533.42,303.32L535.20,305.28L536.99,307.31L538.78,309.41L540.56,311.55L542.35,313.75L544.13,316.00L545.92,318.29L547.71,320.62L549.49,323.00L551.28,325.45L553.06,327.96L554.85,330.56L556.64,333.24L558.42,336.02L560.21,338.87L561.99,341.79L563.78,344.76L565.57,347.79L567.35,350.86L569.14,353.96L570.92,357.11L572.71,360.28L574.50,363.47L576.28,366.69L578.07,369.92L579.85,373.16L581.64,376.41L583.43,379.66L585.21,382.91L587.00,386.15L588.78,389.38L590.57,392.59L592.36,395.77L594.14,398.93L595.93,402.05L597.71,405.14L599.50,408.17L601.29,411.16L603.07,414.08L604.86,416.95L606.64,419.74L608.43,422.46L610.22,425.10L612.00,427.66L613.79,430.13L615.57,432.52L617.36,434.83L619.15,437.09L620.93,439.29L622.72,441.45L624.50,443.58L626.29,445.68L628.08,447.77L629.86,449.85L631.65,451.93L633.43,454.02L635.22,456.11L637.01,458.19L638.79,460.26L640.58,462.31L642.36,464.33L644.15,466.31L645.94,468.26L647.72,470.17L649.51,472.02L651.29,473.80L653.08,475.53L654.87,477.20L656.65,478.81L658.44,480.36L660.22,481.85L662.01,483.30L663.80,484.69L665.58,486.04L667.37,487.33L669.15,488.59L670.94,489.80L672.73,490.97L674.51,492.09L676.30,493.19L678.08,494.24L679.87,495.26L681.66,496.25L683.44,497.21L685.23,498.13L687.01,499.02L688.80,499.89L690.59,500.72L692.37,501.52L694.16,502.30L695.94,503.05L697.73,503.77L699.52,504.47L701.30,505.14L703.09,505.79L704.87,506.42L706.66,507.03L708.45,507.62L710.23,508.20L712.02,508.75L713.80,509.29L715.59,509.80L717.38,510.31L719.16,510.79L720.95,511.26L722.73,511.71L724.52,512.14L726.31,512.56L728.09,512.96L729.88,513.35L731.66,513.72L733.45,514.07L735.24,514.42L737.02,514.75L738.81,515.06L740.59,515.36L742.38,515.65L744.17,515.92L745.95,516.19L747.74,516.44L749.52,516.68L751.31,516.91L753.10,517.14L754.88,517.35L756.67,517.55L758.45,517.75L760.24,517.94L762.03,518.13L763.81,518.31L765.60,518.48L767.38,518.65L769.17,518.82L770.96,518.98L772.74,519.14L774.53,519.30L776.31,519.46L778.10,519.61" fill="none" stroke="#70AD47" stroke-width="2.0" stroke-linejoin="round" stroke-linecap="butt"/>
<g opacity="0.999">
<g fill="#595959" font-size="11.5" text-anchor="end" stroke="#595959" stroke-width="0.25">
<text x="51.8" y="548.0">0</text>
<text x="51.8" y="491.5">0.2</text>
<text x="51.8" y="435.0">0.4</text>
<text x="51.8" y="378.4">0.6</text>
<text x="51.8" y="321.9">0.8</text>
<text x="51.8" y="265.4">1</text>
<text x="51.8" y="208.9">1.2</text>
<text x="51.8" y="152.4">1.4</text>
<text x="51.8" y="95.8">1.6</text>
</g>
<g fill="#595959" font-size="11.5" text-anchor="middle" stroke="#595959" stroke-width="0.25">
<text x="63.7" y="564.2">400</text>
<text x="153.0" y="564.2">450</text>
<text x="242.3" y="564.2">500</text>
<text x="331.6" y="564.2">550</text>
<text x="420.9" y="564.2">600</text>
<text x="510.2" y="564.2">650</text>
<text x="599.5" y="564.2">700</text>
<text x="688.8" y="564.2">750</text>
<text x="778.1" y="564.2">800</text>
</g>
<g fill="#595959" stroke="#595959" stroke-width="0.25">
<text x="99.30" y="37.2" font-size="21.6" textLength="65.71" lengthAdjust="spacingAndGlyphs">UV-Vis</text>
<text x="170.91" y="37.2" font-size="21.6" textLength="73.82" lengthAdjust="spacingAndGlyphs">Spectra</text>
<text x="253.10" y="37.2" font-size="21.6" textLength="25.86" lengthAdjust="spacingAndGlyphs">for</text>
<text x="286.64" y="37.2" font-size="21.6" textLength="87.18" lengthAdjust="spacingAndGlyphs">Bradford</text>
<text x="378.75" y="37.2" font-size="21.6" textLength="53.58" lengthAdjust="spacingAndGlyphs">Assay</text>
<text x="440.76" y="37.2" font-size="21.6" textLength="20.51" lengthAdjust="spacingAndGlyphs">of</text>
<text x="467.36" y="37.2" font-size="21.6" textLength="118.48" lengthAdjust="spacingAndGlyphs">Horseradish</text>
<text x="591.76" y="37.2" font-size="21.6" textLength="107.28" lengthAdjust="spacingAndGlyphs">Peroxidase</text>
<text x="316.86" y="67.0" font-size="21.6" textLength="99.07" lengthAdjust="spacingAndGlyphs">Solutions,</text>
<text x="418.86" y="67.0" font-size="21.6" textLength="42.88" lengthAdjust="spacingAndGlyphs">Trial</text>
<text x="469.50" y="67.0" font-size="21.6" textLength="10.81" lengthAdjust="spacingAndGlyphs">3</text>
</g>
<g fill="#595959" stroke="#595959" stroke-width="0.3">
<text x="371.90" y="584.1" font-size="12.5" textLength="66.45" lengthAdjust="spacingAndGlyphs">Wavelength</text>
<text x="441.70" y="584.1" font-size="12.5" textLength="25.81" lengthAdjust="spacingAndGlyphs">(nm)</text>
<g transform="translate(28.6,0) rotate(-90)">
<text x="-351.60" y="0" font-size="12.5" textLength="66.31" lengthAdjust="spacingAndGlyphs">Absorbance</text>
</g></g>
</g>
</svg></body></html>
